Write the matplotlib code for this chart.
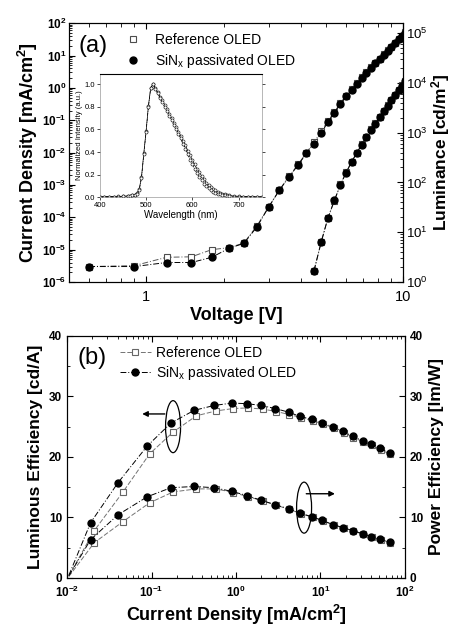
import matplotlib
matplotlib.use("Agg")
import matplotlib.pyplot as plt
from matplotlib.patches import Ellipse
from matplotlib.lines import Line2D
from matplotlib.ticker import LogLocator, NullFormatter, MultipleLocator, FixedLocator

plt.rcParams['font.family'] = ['Liberation Sans', 'DejaVu Sans']
plt.rcParams['mathtext.fontset'] = 'custom'
plt.rcParams['mathtext.rm'] = 'Liberation Sans'
plt.rcParams['mathtext.bf'] = 'Liberation Sans:bold'
plt.rcParams['mathtext.it'] = 'Liberation Sans:italic'

# ---------------- data: panel (a) J-V-L ----------------
voltage = [0.6, 0.9, 1.2, 1.5, 1.8, 2.1, 2.4, 2.7, 3.0, 3.3, 3.6, 3.9, 4.2,
           4.5, 4.8, 5.1, 5.4, 5.7, 6.0, 6.3, 6.6, 6.9, 7.2, 7.5, 7.8, 8.1,
           8.4, 8.7, 9.0, 9.3, 9.6, 9.9, 10.2, 10.5]
j_sinx = [3e-6, 3e-6, 4e-6, 4e-6, 5.8e-6, 1.1e-5, 1.56e-5, 5.1e-5, 2.1e-4, 6.9e-4,
          1.8e-3, 4.1e-3, 9.4e-3, 0.019, 0.04, 0.089, 0.17, 0.32, 0.55, 0.89,
          1.35, 2.0, 2.9, 4.2, 5.7, 7.9, 10.5, 14, 18.6, 24, 31.6, 40, 51, 66]
j_ref = [3e-6, 3.2e-6, 5.8e-6, 6e-6, 1.0e-5, 1.15e-5, 1.6e-5, 5.5e-5, 2.1e-4, 7.0e-4,
         1.85e-3, 4.3e-3, 9.8e-3, 0.021, 0.046, 0.095, 0.18, 0.34, 0.58, 0.93,
         1.4, 2.1, 3.0, 4.3, 5.9, 8.1, 10.8, 14.4, 19, 24.5, 32, 41, 52, 67]
lum_voltage = [4.5, 4.8, 5.1, 5.4, 5.7, 6.0, 6.3, 6.6, 6.9, 7.2, 7.5, 7.8, 8.1,
               8.4, 8.7, 9.0, 9.3, 9.6, 9.9, 10.2, 10.5]
lum_sinx = [1.7, 6.3, 19.4, 43.5, 88.6, 157, 257, 389, 570, 812, 1151, 1522, 2070,
            2688, 3500, 4500, 5616, 7173, 8880, 10965, 13600]
lum_ref = [1.64, 6.5, 19.5, 43, 91, 160, 260, 393, 586, 825, 1161, 1564, 2106,
           2743, 3571, 4560, 5684, 7200, 8979, 11024, 13668]

# inset spectrum
wavelength = [400, 410, 420, 430, 440, 450, 460, 465, 470, 475, 480, 485, 490, 495,
              500, 505, 510, 515, 520, 525, 530, 535, 540, 545, 550, 555, 560, 565,
              570, 575, 580, 585, 590, 595, 600, 605, 610, 615, 620, 625, 630, 635,
              640, 645, 650, 655, 660, 665, 670, 675, 680, 690, 700, 710, 720, 730,
              740, 750]
spec_a = [0.005, 0.005, 0.005, 0.005, 0.006, 0.007, 0.01, 0.012, 0.015, 0.02, 0.03,
          0.06, 0.17, 0.38, 0.58, 0.80, 0.97, 1.0, 0.96, 0.92, 0.88, 0.84, 0.80,
          0.76, 0.72, 0.68, 0.64, 0.60, 0.56, 0.52, 0.47, 0.43, 0.38, 0.33, 0.29,
          0.25, 0.21, 0.18, 0.15, 0.12, 0.10, 0.08, 0.065, 0.05, 0.04, 0.03, 0.025,
          0.02, 0.015, 0.01, 0.008, 0.006, 0.005, 0.005, 0.005, 0.005, 0.005, 0.005]
spec_b = [0.006, 0.006, 0.006, 0.006, 0.007, 0.008, 0.011, 0.013, 0.016, 0.022, 0.035,
          0.07, 0.18, 0.39, 0.59, 0.81, 0.97, 1.0, 0.97, 0.93, 0.89, 0.86, 0.82,
          0.78, 0.74, 0.70, 0.66, 0.62, 0.58, 0.54, 0.50, 0.46, 0.41, 0.37, 0.33,
          0.29, 0.25, 0.22, 0.19, 0.16, 0.13, 0.11, 0.09, 0.075, 0.06, 0.05, 0.04,
          0.032, 0.025, 0.02, 0.015, 0.01, 0.008, 0.006, 0.006, 0.005, 0.005, 0.005]

# ---------------- data: panel (b) efficiencies ----------------
jb_sinx = [0.0105, 0.019, 0.04, 0.089, 0.17, 0.32, 0.55, 0.89, 1.35, 2.0, 2.9, 4.2,
           5.7, 7.9, 10.5, 14, 18.6, 24, 31.6, 40, 51, 66]
le_sinx = [0.4, 9.1, 15.7, 21.8, 25.6, 27.7, 28.5, 28.9, 28.8, 28.5, 28.0, 27.4,
           26.7, 26.2, 25.6, 25.0, 24.2, 23.4, 22.7, 22.2, 21.5, 20.6]
pe_sinx = [0.3, 6.3, 10.4, 13.4, 14.9, 15.1, 14.9, 14.3, 13.6, 12.8, 12.1, 11.4,
           10.7, 10.1, 9.5, 8.8, 8.3, 7.8, 7.3, 6.8, 6.4, 5.9]
jb_ref = [0.0105, 0.021, 0.046, 0.095, 0.18, 0.34, 0.58, 0.93, 1.4, 2.1, 3.0, 4.3,
          5.9, 8.1, 10.8, 14.4, 19, 24.5, 32, 41, 52, 67]
le_ref = [0.3, 7.8, 14.2, 20.5, 24.1, 26.8, 27.6, 28.0, 28.1, 27.9, 27.5, 27.0,
          26.5, 26.0, 25.4, 24.8, 24.0, 23.2, 22.5, 21.9, 21.2, 20.4]
pe_ref = [0.2, 5.8, 9.3, 12.4, 14.2, 14.7, 14.7, 14.1, 13.4, 12.7, 12.0, 11.3,
          10.6, 10.0, 9.4, 8.7, 8.2, 7.7, 7.2, 6.7, 6.3, 5.8]

labels = ['Reference OLED', r'SiN$_\mathregular{x}$ passivated OLED']

fig = plt.figure(figsize=(4.56, 6.28), dpi=100)
ax1 = fig.add_axes([0.151, 0.551, 0.733, 0.412])
ax2 = fig.add_axes([0.147, 0.080, 0.741, 0.385])

LBL = 13

# ---------------- panel (a) ----------------
ax1.set_xscale('log'); ax1.set_yscale('log')
ax1.plot(voltage, j_ref, ls=(0, (6, 2, 1, 2)), lw=0.7, color='0.35', marker='s',
         mfc='white', mec='0.3', ms=5, mew=0.8)
ax1.plot(voltage, j_sinx, ls=(0, (6, 2, 1, 2)), lw=0.7, color='black', marker='o',
         mfc='black', mec='black', ms=5)
ax1.set_xlim(0.5, 10)
ax1.set_ylim(1e-6, 1e2)
ax1.set_yticks([10.0**e for e in range(-6, 3)])
ax1.set_yticklabels([r'$\mathbf{10^{%d}}$' % e for e in range(-6, 3)])
ax1.yaxis.set_minor_locator(LogLocator(base=10, subs=range(2, 10), numticks=20))
ax1.yaxis.set_minor_formatter(NullFormatter())
ax1.xaxis.set_major_locator(FixedLocator([1, 10]))
ax1.xaxis.set_minor_locator(FixedLocator([0.6, 0.7, 0.8, 0.9, 2, 3, 4, 5, 6, 7, 8, 9]))
ax1.xaxis.set_minor_formatter(NullFormatter())
ax1.set_xticklabels(['1', '10'])
ax1.tick_params(axis='both', which='both', direction='in', top=True)
ax1.tick_params(axis='y', which='major', length=4, labelsize=8.5, pad=2)
ax1.tick_params(axis='y', which='minor', length=2)
ax1.tick_params(axis='x', which='major', length=4, labelsize=10.5, pad=6)
ax1.tick_params(axis='x', which='minor', length=3)
ax1.set_xlabel('Voltage [V]', fontsize=LBL, fontweight='bold', labelpad=2)
ax1.set_ylabel(r'Current Density $\mathbf{[mA/cm^{2}]}$', fontsize=LBL,
               fontweight='bold', labelpad=1)

ax1r = ax1.twinx()
ax1r.set_yscale('log')
ax1r.plot(lum_voltage, lum_ref, ls=(0, (6, 2, 1, 2)), lw=0.7, color='0.35', marker='s',
          mfc='white', mec='0.3', ms=5, mew=0.8)
ax1r.plot(lum_voltage, lum_sinx, ls=(0, (6, 2, 1, 2)), lw=0.7, color='black', marker='o',
          mfc='black', mec='black', ms=5)
ax1r.set_ylim(1, 10**5.2)
ax1r.set_yticks([10.0**e for e in range(0, 6)])
ax1r.set_yticklabels([r'$\mathregular{10^{%d}}$' % e for e in range(0, 6)])
ax1r.yaxis.set_minor_locator(LogLocator(base=10, subs=range(2, 10), numticks=20))
ax1r.yaxis.set_minor_formatter(NullFormatter())
ax1r.tick_params(axis='y', which='major', direction='in', length=4, labelsize=9.5, pad=2)
ax1r.tick_params(axis='y', which='minor', direction='in', length=2)
ax1r.set_ylabel(r'Luminance $\mathbf{[cd/m^{2}]}$', fontsize=12.5, fontweight='bold',
                labelpad=1)

ax1.text(0.03, 0.955, '(a)', transform=ax1.transAxes, fontsize=17, va='top', ha='left')
h1 = [Line2D([], [], ls='none', marker='s', mfc='white', mec='0.3', ms=5, mew=0.8),
      Line2D([], [], ls='none', marker='o', mfc='black', mec='black', ms=5)]
ax1.legend(h1, labels, loc='upper left', bbox_to_anchor=(0.13, 1.01), frameon=False,
           fontsize=10, handlelength=1.2, handletextpad=1.0, labelspacing=0.35)

# inset
axi = fig.add_axes([0.219, 0.686, 0.355, 0.196])
axi.plot(wavelength, spec_b, ls='-', lw=0.5, color='black', marker='o', mfc='white',
         mec='black', ms=2.2, mew=0.4)
axi.plot(wavelength, spec_a, ls=(0, (4, 1.5, 1, 1.5)), lw=0.5, color='black', marker='o',
         mfc='white', mec='black', ms=2.2, mew=0.4)
axi.set_xlim(400, 750)
axi.set_ylim(0, 1.09)
axi.set_xticks([400, 500, 600, 700])
axi.set_yticks([0.0, 0.2, 0.4, 0.6, 0.8, 1.0])
axi.set_yticklabels(['0.0', '0.2', '0.4', '0.6', '0.8', '1.0'])
axi.tick_params(labelsize=5.5, length=2, width=0.5, pad=1.5, right=True)
axi.set_xlabel('Wavelength (nm)', fontsize=7, labelpad=1)
axi.set_ylabel('Normalized Intensity (a.u.)', fontsize=5.5, labelpad=1)
for s in ['left', 'right', 'bottom']:
    axi.spines[s].set_linewidth(0.4)
    axi.spines[s].set_color('0.5')
axi.spines['top'].set_linewidth(0.8)
axi.patch.set_alpha(0)

# ---------------- panel (b) ----------------
ax2.set_xscale('log')
ax2.plot(jb_ref, le_ref, ls=(0, (5, 2)), lw=0.7, color='0.45', marker='s', mfc='white',
         mec='0.4', ms=5, mew=0.8, markevery=range(1, len(jb_ref)))
ax2.plot(jb_sinx, le_sinx, ls=(0, (6, 2, 1, 2)), lw=0.7, color='black', marker='o',
         mfc='black', mec='black', ms=5, markevery=range(1, len(jb_sinx)))
ax2.plot(jb_ref, pe_ref, ls=(0, (5, 2)), lw=0.7, color='0.45', marker='s', mfc='white',
         mec='0.4', ms=5, mew=0.8, markevery=range(1, len(jb_ref)))
ax2.plot(jb_sinx, pe_sinx, ls=(0, (6, 2, 1, 2)), lw=0.7, color='black', marker='o',
         mfc='black', mec='black', ms=5, markevery=range(1, len(jb_sinx)))
ax2.set_xlim(1e-2, 1e2)
ax2.set_ylim(0, 40)
ax2.set_xticks([1e-2, 1e-1, 1e0, 1e1, 1e2])
ax2.set_xticklabels([r'$\mathbf{10^{%d}}$' % e for e in range(-2, 3)])
ax2.xaxis.set_minor_locator(LogLocator(base=10, subs=range(2, 10), numticks=20))
ax2.xaxis.set_minor_formatter(NullFormatter())
ax2.yaxis.set_major_locator(MultipleLocator(10))
ax2.yaxis.set_minor_locator(MultipleLocator(5))
ax2.tick_params(axis='both', which='both', direction='in', top=True)
ax2.tick_params(axis='both', which='major', length=4, labelsize=8.5)
ax2.tick_params(axis='x', which='major', pad=5)
ax2.tick_params(axis='both', which='minor', length=2)
for t in ax2.get_yticklabels():
    t.set_fontweight('bold')
ax2.set_xlabel(r'Current Density $\mathbf{[mA/cm^{2}]}$', fontsize=LBL,
               fontweight='bold', labelpad=2)
ax2.set_ylabel('Luminous Efficiency [cd/A]', fontsize=12.5, fontweight='bold', labelpad=4)

ax2r = ax2.twinx()
ax2r.set_ylim(0, 40)
ax2r.yaxis.set_major_locator(MultipleLocator(10))
ax2r.yaxis.set_minor_locator(MultipleLocator(5))
ax2r.tick_params(axis='y', which='both', direction='in', labelsize=8.5)
ax2r.tick_params(axis='y', which='major', length=4)
ax2r.tick_params(axis='y', which='minor', length=2)
for t in ax2r.get_yticklabels():
    t.set_fontweight('bold')
ax2r.set_ylabel('Power Efficiency [lm/W]', fontsize=12.5, fontweight='bold', labelpad=4)

ax2.text(0.03, 0.955, '(b)', transform=ax2.transAxes, fontsize=17, va='top', ha='left')
h2 = [Line2D([], [], ls=(0, (5, 2)), lw=0.7, color='0.45', marker='s', mfc='white',
             mec='0.4', ms=5, mew=0.8),
      Line2D([], [], ls=(0, (6, 2, 1, 2)), lw=0.7, color='black', marker='o',
             mfc='black', mec='black', ms=5)]
ax2.legend(h2, labels, loc='upper left', bbox_to_anchor=(0.12, 1.01), frameon=False,
           fontsize=10, handlelength=2.2, handletextpad=0.4, labelspacing=0.3)

# ellipses and arrows
def to_axes(ax, x, y):
    return ax.transAxes.inverted().transform(ax.transData.transform((x, y)))

aw = ax2.get_position().width * fig.get_figwidth() * fig.dpi
ah = ax2.get_position().height * fig.get_figheight() * fig.dpi
c1 = to_axes(ax2, 0.18, 25.0)
ax2.add_patch(Ellipse(c1, 15 / aw, 52 / ah, transform=ax2.transAxes, fill=False,
                      lw=0.9, ec='black'))
ax2.annotate('', xy=(0.072, 27.1), xytext=(0.155, 27.1),
             arrowprops=dict(arrowstyle='-|>', lw=1.0, color='black', mutation_scale=8))
c2 = to_axes(ax2, 6.4, 11.6)
ax2.add_patch(Ellipse(c2, 15 / aw, 51 / ah, transform=ax2.transAxes, fill=False,
                      lw=0.9, ec='black'))
ax2.annotate('', xy=(16.0, 13.9), xytext=(6.3, 13.9),
             arrowprops=dict(arrowstyle='-|>', lw=1.0, color='black', mutation_scale=8))

fig.savefig('out.png', dpi=100)
